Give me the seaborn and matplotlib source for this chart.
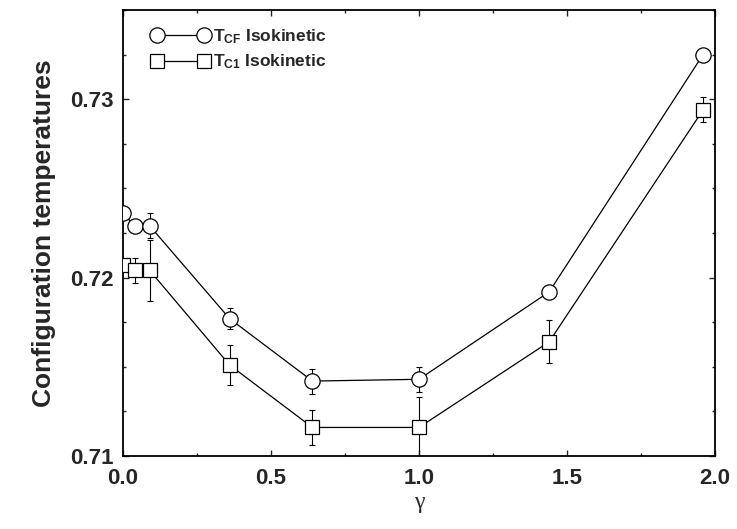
import matplotlib
matplotlib.use("Agg")
import matplotlib.pyplot as plt
import seaborn as sns
import numpy as np
from matplotlib.ticker import MultipleLocator

# ---- data ----
gamma = [0.0, 0.04, 0.09, 0.36, 0.64, 1.0, 1.44, 1.96]
t_cf = [0.7236, 0.7229, 0.7229, 0.7177, 0.7142, 0.7143, 0.7192, 0.7325]
t_cf_err = [0.0, 0.0, 0.0007, 0.0006, 0.0007, 0.0007, 0.0, 0.0]
t_c1 = [0.7207, 0.7204, 0.7204, 0.7151, 0.7116, 0.7116, 0.7164, 0.7294]
t_c1_err = [0.0, 0.0007, 0.0017, 0.0011, 0.0010, 0.0017, 0.0012, 0.0007]
series_labels = [r"$\mathbf{T_{CF}}$ Isokinetic", r"$\mathbf{T_{C1}}$ Isokinetic"]
x_ticks = [0.0, 0.5, 1.0, 1.5, 2.0]
y_ticks = [0.71, 0.72, 0.73]

sns.set_style("ticks")
plt.rcParams["font.family"] = ["Liberation Sans", "DejaVu Sans"]
plt.rcParams["mathtext.fontset"] = "custom"
plt.rcParams["mathtext.bf"] = "Liberation Sans:bold"
plt.rcParams["mathtext.rm"] = "Liberation Sans"

fig = plt.figure(figsize=(7.37, 5.29), dpi=100)
ax = fig.add_axes([0.167, 0.138, 0.803, 0.843])

common = dict(color="black", linewidth=0.9, markerfacecolor="white",
              markeredgecolor="black", markeredgewidth=0.9, zorder=3)
sns.lineplot(x=gamma, y=t_cf, ax=ax, marker="o", markersize=11,
             label=series_labels[0], **common)
sns.lineplot(x=gamma, y=t_c1, ax=ax, marker="s", markersize=9.5,
             label=series_labels[1], **common)

ax.errorbar(gamma, t_cf, yerr=t_cf_err, fmt="none", ecolor="black",
            elinewidth=0.8, capsize=2.5, capthick=0.8, zorder=2)
ax.errorbar(gamma, t_c1, yerr=t_c1_err, fmt="none", ecolor="black",
            elinewidth=0.8, capsize=2.5, capthick=0.8, zorder=2)

ax.set_xlim(0.0, 2.0)
ax.set_ylim(0.71, 0.735)
ax.set_xticks(x_ticks)
ax.set_yticks(y_ticks)
ax.xaxis.set_minor_locator(MultipleLocator(0.25))
ax.yaxis.set_minor_locator(MultipleLocator(0.0025))
ax.set_xticklabels([f"{v:.1f}" for v in x_ticks], fontsize=16, fontweight="bold")
ax.set_yticklabels([f"{v:.2f}" for v in y_ticks], fontsize=16, fontweight="bold")
ax.tick_params(which="both", direction="in", top=True, right=True, width=1.0)
ax.tick_params(which="major", length=4)
ax.tick_params(axis="x", which="major", pad=9)
ax.tick_params(axis="y", which="major", pad=7)
ax.tick_params(which="minor", length=2.5)
for s in ax.spines.values():
    s.set_linewidth(1.3)
    s.set_color("black")

ax.set_ylabel("Configuration temperatures", fontsize=19, fontweight="bold", labelpad=10)
ax.set_xlabel("γ", fontsize=17, family=["Liberation Serif", "DejaVu Serif"], labelpad=2)

handles, labels = ax.get_legend_handles_labels()
ax.legend(handles, labels, loc="upper left", bbox_to_anchor=(0.022, 0.997),
          frameon=False, numpoints=2, handlelength=3.3, handletextpad=0.25,
          labelspacing=0.4, prop={"weight": "bold", "size": 12.5})

fig.savefig("out.png", dpi=100)
